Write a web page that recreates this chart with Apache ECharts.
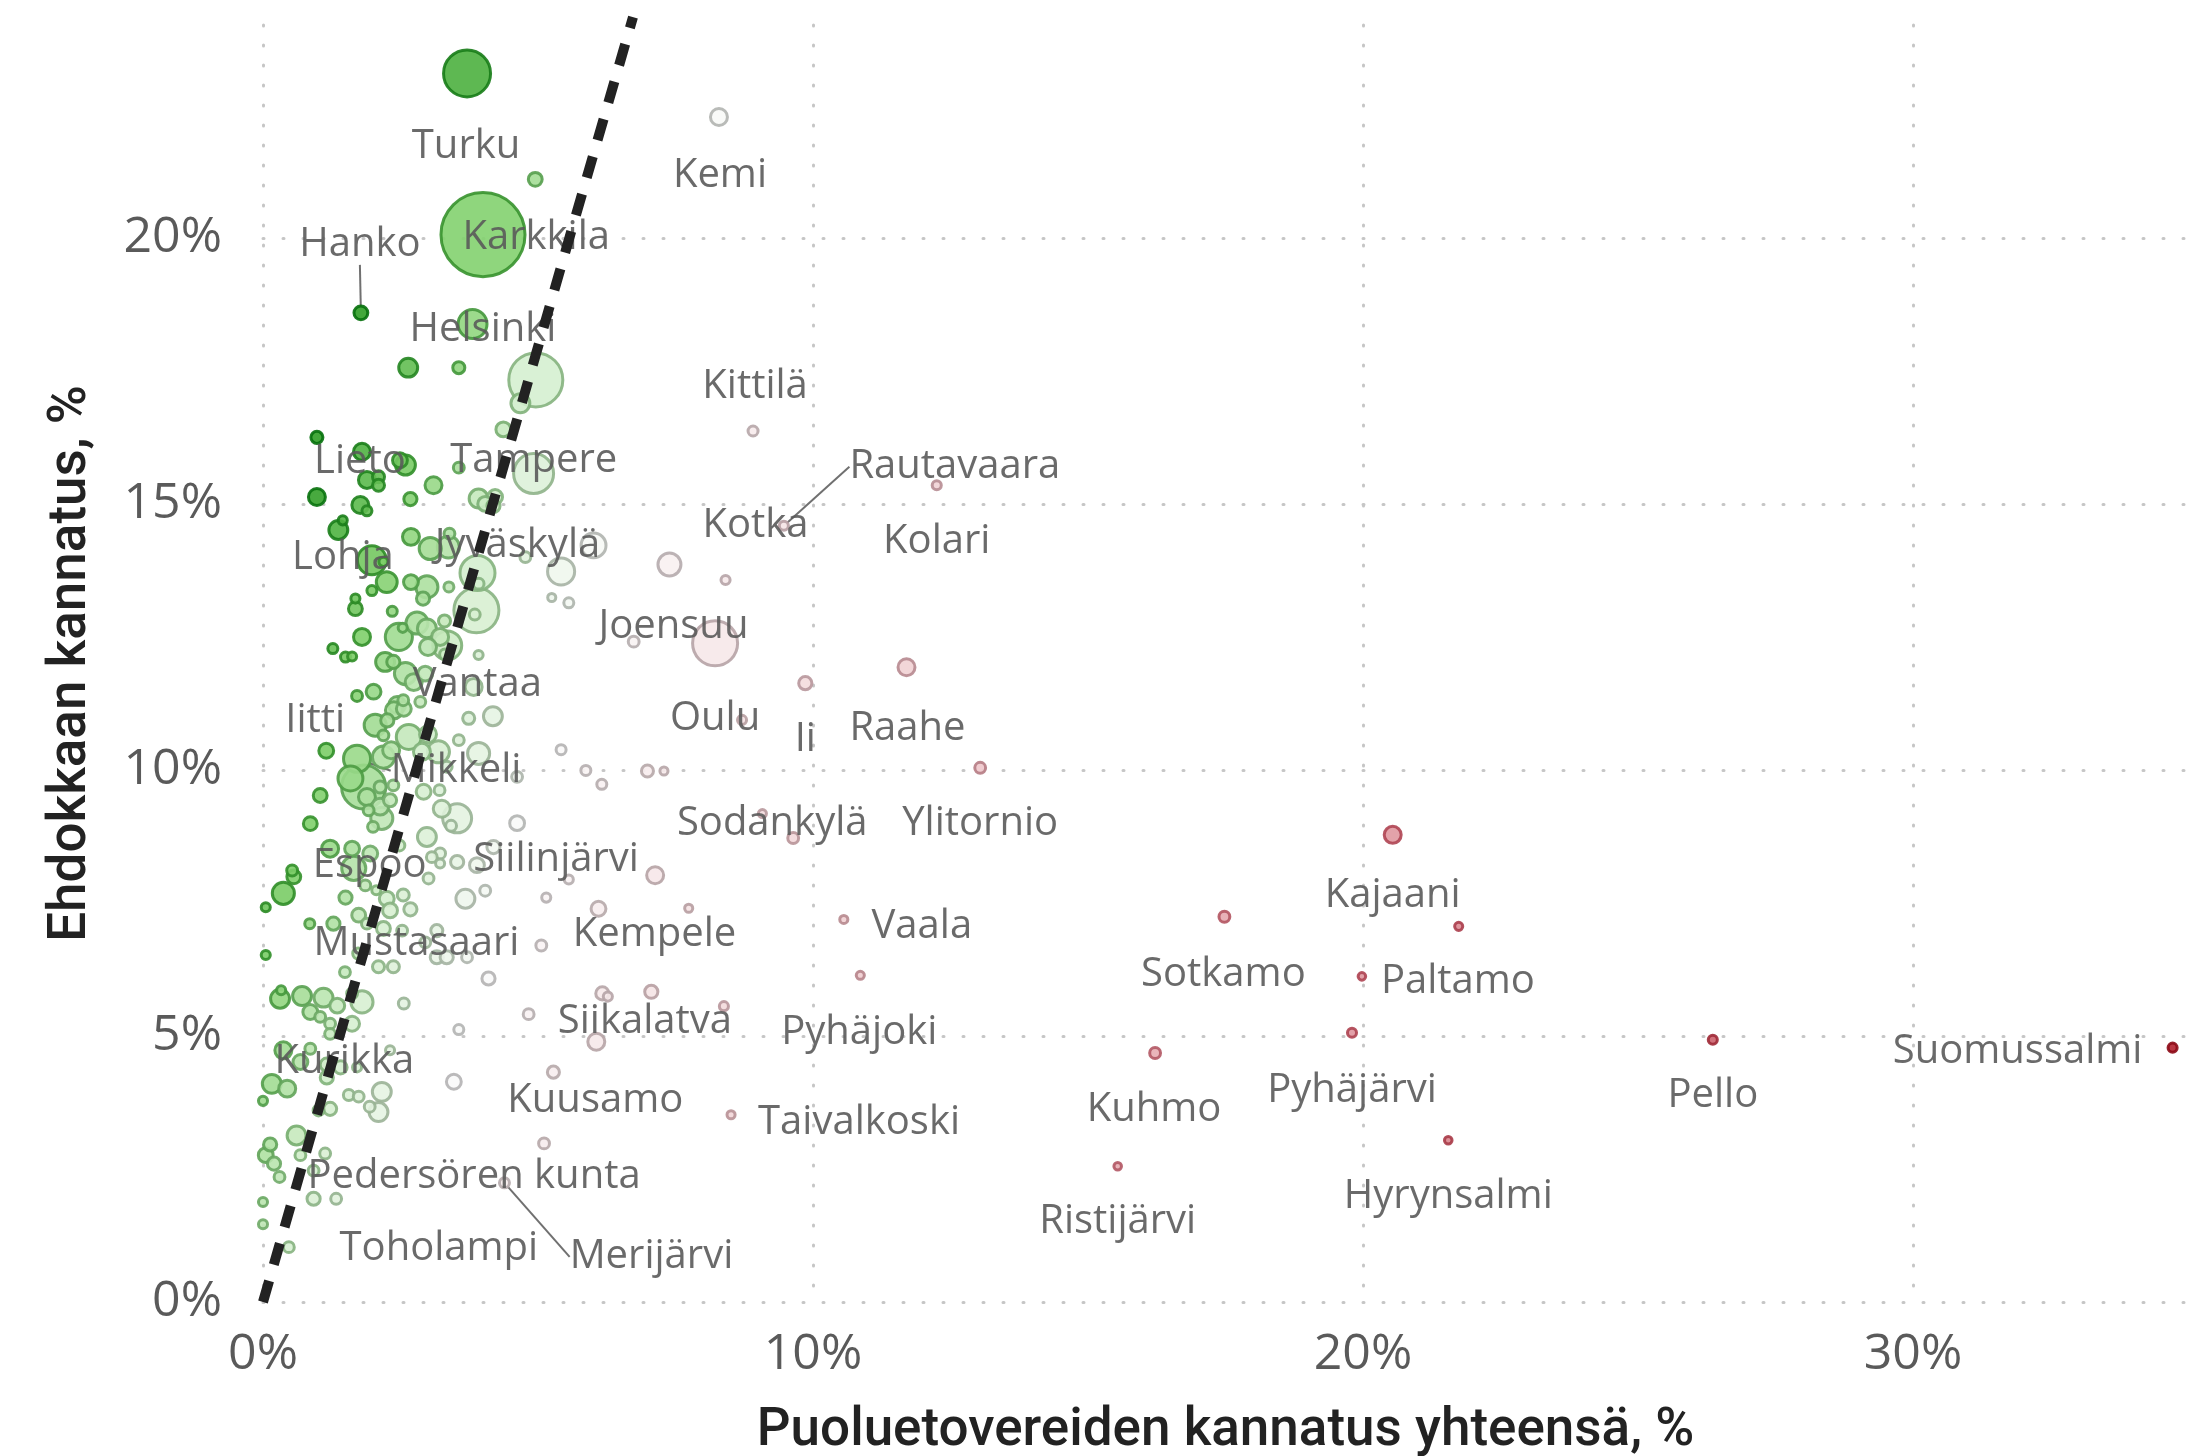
<!DOCTYPE html>
<html>
<head>
<meta charset="utf-8">
<script src="https://cdn.jsdelivr.net/npm/echarts@6/dist/echarts.min.js"></script>
<style>
  html, body { margin: 0; background: #fff; }
  #chart { width: 2212px; height: 1456px; }
</style>
</head>
<body>
<div id="chart"></div>
<script>
// labelled municipalities come first, in the same order as the value arrays
const labelNames = [
  'Turku', 'Kemi', 'Karkkila', 'Hanko', 'Helsinki', 'Kittilä', 'Rautavaara', 'Lieto',
  'Tampere', 'Kolari', 'Kotka', 'Lohja', 'Jyväskylä', 'Joensuu', 'Oulu', 'Vantaa',
  'Raahe', 'Iitti', 'Ii', 'Mikkeli', 'Sodankylä', 'Ylitornio', 'Espoo', 'Siilinjärvi',
  'Kajaani', 'Mustasaari', 'Kempele', 'Vaala', 'Sotkamo', 'Paltamo', 'Siikalatva', 'Pyhäjoki',
  'Suomussalmi', 'Kurikka', 'Kuusamo', 'Pyhäjärvi', 'Pello', 'Kuhmo', 'Taivalkoski',
  'Pedersören kunta', 'Hyrynsalmi', 'Ristijärvi', 'Toholampi', 'Merijärvi'
];

// party colleagues' combined support, %
const partyShare = [
  3.71, 8.29, 4.95, 1.78, 4.0, 8.91, 9.47, 0.98, 4.96, 12.25, 8.41, 1.98, 3.90, 7.39, 8.22, 3.88,
  11.7, 1.15, 9.86, 1.71, 9.64, 13.04, 1.83, 4.62, 20.54, 2.19, 6.1, 10.56, 17.48, 19.98, 8.38, 10.86,
  34.72, 0.37, 6.06, 19.8, 26.36, 16.22, 8.51, 5.11, 21.55, 15.54, 0.47, 4.39,
  3.81, 2.64, 3.56, 4.68, 4.37, 1.8, 2.59, 2.49, 3.56, 4.92, 2.1, 1.89, 2.1, 3.1, 0.98, 4.22,
  3.92, 2.68, 4.04, 1.77, 4.19, 1.89, 1.45, 1.37, 3.39, 2.69, 6.01, 3.37, 3.04, 4.77, 2.19, 5.42,
  2.25, 2.69, 3.92, 2.98, 3.38, 1.98, 5.25, 2.91, 1.68, 5.56, 1.68, 2.35, 3.85, 3.30, 2.8, 2.54,
  2.98, 1.8, 2.47, 3.22, 6.74, 3.35, 3.0, 1.27, 3.31, 3.92, 1.62, 1.5, 2.22, 2.37, 2.59, 2.95,
  2.74, 3.83, 2.01, 1.71, 2.55, 2.86, 2.44, 2.38, 2.56, 4.18, 3.74, 2.04, 2.26, 3.0, 2.65, 2.19,
  3.56, 5.42, 2.33, 3.19, 2.89, 3.92, 2.19, 3.34, 5.87, 6.99, 7.29, 4.62, 1.59, 6.16, 2.37, 2.13,
  3.21, 2.92, 1.04, 1.89, 2.31, 2.13, 3.25, 1.92, 9.08, 2.16, 3.53, 0.86, 3.42, 2.0, 2.98, 2.48,
  4.19, 1.22, 1.62, 1.95, 3.22, 3.07, 3.53, 3.22, 3.89, 1.65, 0.53, 7.13, 0.56, 3.01, 5.56, 1.86,
  2.06, 4.04, 0.37, 2.55, 1.5, 5.15, 2.25, 3.68, 0.05, 7.74, 2.68, 2.31, 1.74, 0.85, 1.28, 1.89,
  21.74, 2.53, 3.16, 2.95, 5.06, 1.73, 0.05, 3.16, 3.34, 3.71, 2.1, 2.37, 1.49, 4.1, 0.33, 6.17,
  6.27, 7.06, 1.62, 0.71, 0.31, 1.1, 1.8, 2.56, 1.35, 0.86, 4.83, 1.04, 1.22, 1.62, 3.56, 1.22,
  0.86, 2.31, 0.68, 1.16, 1.41, 1.71, 5.28, 1.16, 3.47, 0.16, 0.44, 2.16, 1.56, 1.74, 0.0, 1.94,
  1.22, 1.01, 2.1, 0.61, 0.13, 0.05, 0.68, 1.13, 0.2, 0.92, 0.3, 0.92, 1.33, 0.0, 0.0, 8.71
];

// the candidate's own support, %
const candidateShare = [
  23.09, 22.27, 21.1, 18.59, 20.06, 16.37, 14.59, 16.25, 17.33, 15.35, 13.57, 13.94, 13.70, 13.86, 12.38, 13.0,
  11.93, 10.36, 11.63, 10.21, 8.72, 10.04, 9.68, 9.0, 8.78, 7.02, 7.39, 7.19, 7.24, 6.12, 5.56, 6.14,
  4.78, 4.73, 4.89, 5.06, 4.93, 4.68, 3.52, 2.98, 3.04, 2.55, 1.03, 2.24,
  18.38, 17.56, 17.56, 16.89, 16.4, 15.98, 15.73, 15.82, 15.68, 15.57, 15.51, 15.45, 15.35, 15.35, 15.13, 15.13,
  15.1, 15.09, 15.0, 14.98, 14.96, 14.87, 14.69, 14.51, 14.44, 14.38, 14.22, 14.19, 14.16, 14.0, 13.91, 13.73,
  13.53, 13.53, 13.5, 13.44, 13.44, 13.37, 13.24, 13.22, 13.22, 13.14, 13.03, 12.98, 12.92, 12.8, 12.76, 12.67,
  12.66, 12.5, 12.5, 12.5, 12.41, 12.34, 12.31, 12.28, 12.17, 12.16, 12.13, 12.12, 12.03, 12.03, 11.81, 11.81,
  11.65, 11.56, 11.47, 11.39, 11.31, 11.28, 11.22, 11.12, 11.15, 11.01, 10.97, 10.84, 10.93, 10.67, 10.62, 10.65,
  10.56, 10.38, 10.37, 10.34, 10.34, 10.31, 10.24, 10.06, 9.99, 9.98, 9.98, 9.87, 9.84, 9.73, 9.71, 9.68,
  9.62, 9.59, 9.52, 9.49, 9.43, 9.31, 9.27, 9.24, 9.18, 9.09, 9.09, 8.99, 8.95, 8.93, 8.74, 8.58,
  8.55, 8.52, 8.52, 8.43, 8.43, 8.36, 8.27, 8.24, 8.21, 8.15, 8.11, 8.02, 7.99, 7.96, 7.94, 7.83,
  7.74, 7.73, 7.68, 7.65, 7.6, 7.6, 7.58, 7.58, 7.42, 7.4, 7.38, 7.36, 7.27, 7.11, 7.11, 7.11,
  7.06, 6.98, 6.98, 6.76, 6.7, 6.55, 6.52, 6.48, 6.48, 6.48, 6.3, 6.3, 6.2, 6.08, 5.86, 5.8,
  5.74, 5.83, 5.8, 5.75, 5.7, 5.72, 5.64, 5.61, 5.57, 5.45, 5.41, 5.36, 5.23, 5.23, 5.12, 5.04,
  4.76, 4.73, 4.51, 4.46, 4.41, 4.41, 4.32, 4.22, 4.14, 4.1, 4.01, 3.95, 3.89, 3.86, 3.78, 3.67,
  3.63, 3.6, 3.57, 3.13, 2.96, 2.76, 2.76, 2.79, 2.6, 2.47, 2.35, 1.94, 1.94, 1.88, 1.46, 10.94
];

// population, thousands (bubble size)
const population = [
  209, 26, 16, 16, 650, 6, 4, 11, 274, 4, 4, 80, 117, 50, 192, 192,
  26, 19, 14, 70, 8, 8, 184, 19, 26, 16, 19, 2, 8, 1, 4, 2,
  4, 26, 26, 4, 4, 8, 2, 8, 1, 1, 8, 6,
  80, 33, 11, 33, 19, 26, 37, 19, 8, 152, 11, 26, 11, 26, 26, 19,
  33, 14, 19, 26, 14, 6, 4, 33, 8, 26, 59, 46, 46, 8, 4, 70,
  41, 19, 8, 46, 6, 6, 2, 14, 4, 6, 16, 6, 8, 11, 46, 4,
  33, 26, 70, 26, 8, 80, 26, 6, 8, 4, 4, 6, 33, 14, 46, 19,
  26, 26, 19, 8, 8, 8, 26, 26, 19, 33, 11, 46, 14, 26, 59, 8,
  8, 6, 26, 46, 26, 46, 46, 8, 6, 11, 2, 8, 59, 6, 8, 11,
  8, 19, 16, 26, 14, 26, 26, 8, 2, 46, 80, 16, 8, 8, 33, 8,
  14, 26, 19, 19, 8, 8, 14, 4, 19, 55, 8, 26, 16, 8, 4, 8,
  4, 8, 46, 11, 14, 4, 19, 33, 4, 2, 14, 19, 16, 6, 14, 8,
  2, 8, 11, 8, 8, 8, 4, 14, 14, 8, 11, 11, 8, 14, 4, 14,
  4, 14, 8, 33, 33, 33, 46, 8, 19, 19, 8, 8, 8, 19, 6, 8,
  8, 4, 19, 14, 14, 4, 11, 14, 19, 33, 26, 33, 8, 8, 4, 8,
  14, 8, 33, 33, 14, 19, 8, 8, 14, 8, 8, 14, 8, 4, 4, 4
];

// dashed reference line: candidate share = slope * party share
const trendSlope = 3.59;
const trendTop = 24.15;
const xMax = 35;
const yMax = 24;

// label placement relative to its point, px
const labelOffsets = {
  'Turku': [-1, 69], 'Kemi': [1, 55], 'Karkkila': [1, 54], 'Hanko': [-1, -72],
  'Helsinki': [0, 91], 'Kittilä': [2, -48], 'Rautavaara': [171, -63], 'Lieto': [43, 20],
  'Tampere': [-2, 77], 'Kolari': [0, 52], 'Kotka': [30, -58], 'Lohja': [-29, -7],
  'Jyväskylä': [40, -31], 'Joensuu': [4, 58], 'Oulu': [0, 71], 'Vantaa': [1, 70],
  'Raahe': [1, 57], 'Iitti': [-11, -34], 'Ii': [0, 52], 'Mikkeli': [99, 8],
  'Sodankylä': [-21, -18], 'Ylitornio': [0, 52], 'Espoo': [6, 75], 'Siilinjärvi': [39, 32],
  'Kajaani': [0, 57], 'Mustasaari': [33, 11], 'Kempele': [56, 22], 'Vaala': [78, 3],
  'Sotkamo': [-1, 54], 'Paltamo': [96, 1], 'Siikalatva': [-79, 11], 'Pyhäjoki': [-1, 53],
  'Suomussalmi': [-155, 0], 'Kurikka': [61, 7], 'Kuusamo': [-1, 55], 'Pyhäjärvi': [0, 54],
  'Pello': [0, 52], 'Kuhmo': [-1, 53], 'Taivalkoski': [128, 4], 'Pedersören kunta': [-70, 29],
  'Hyrynsalmi': [0, 52], 'Ristijärvi': [0, 51], 'Toholampi': [150, -3], 'Merijärvi': [147, 70]
};
const labelShiftY = 4;
const leaderLines = ['Hanko', 'Rautavaara', 'Mikkeli', 'Merijärvi'];

// colour by distance from the dashed line (red = below, green = above)
const residStops = [-120, -60, -25, -8, 0, 6, 12];
const fillStops = ['#b3202e', '#e4a3aa', '#f3d9db', '#fafafa', '#d3eecd', '#7fcf6a', '#2f9e26'];
const borderStops = ['#8c0a16', '#b24a58', '#b8959a', '#b4b4b4', '#82b27b', '#33902a', '#06700c'];

function residToT(r) {
  const s = residStops;
  if (r <= s[0]) return 0;
  if (r >= s[s.length - 1]) return 1;
  let i = 0;
  while (r > s[i + 1]) i++;
  return (i + (r - s[i]) / (s[i + 1] - s[i])) / (s.length - 1);
}

const points = partyShare.map((x, i) => {
  const y = candidateShare[i];
  const t = residToT(y - trendSlope * x);
  const name = labelNames[i] || '';
  return {
    name: name,
    value: [x, y, population[i]],
    itemStyle: {
      color: echarts.color.lerp(t, fillStops),
      borderColor: echarts.color.lerp(t, borderStops)
    },
    label: { show: !!name },
    labelLine: { show: leaderLines.includes(name) }
  };
}).sort((a, b) => b.value[2] - a.value[2]);

const gridDots = { color: '#c6c6c6', width: 3, type: [1, 19], cap: 'round' };
const tickFont = { fontSize: 50, color: '#5a5a5a', fontFamily: 'Open Sans' };
const titleFont = { fontSize: 53, color: '#222', fontFamily: 'Roboto', fontWeight: 500 };

const myChart = echarts.init(document.getElementById('chart'));
myChart.setOption({
  animation: false,
  backgroundColor: '#fff',
  grid: { left: 263, right: 24, top: 25, bottom: 154, outerBoundsMode: 'none' },
  xAxis: {
    type: 'value', min: 0, max: xMax, interval: 10,
    axisLine: { show: false }, axisTick: { show: false },
    axisLabel: { ...tickFont, margin: 28, formatter: v => (v % 10 === 0 ? v + '%' : '') },
    splitLine: { show: true, showMaxLine: false, lineStyle: gridDots },
    name: 'Puoluetovereiden kannatus yhteensä, %',
    nameLocation: 'middle', nameGap: 103, nameTextStyle: titleFont
  },
  yAxis: {
    type: 'value', min: 0, max: yMax, interval: 5,
    axisLine: { show: false }, axisTick: { show: false },
    axisLabel: { ...tickFont, margin: 41, formatter: v => (v % 5 === 0 ? v + '%' : '') },
    splitLine: { show: true, showMaxLine: false, lineStyle: gridDots },
    name: 'Ehdokkaan kannatus, %',
    nameLocation: 'middle', nameGap: 165, nameRotate: 90, nameTextStyle: titleFont
  },
  series: [
    {
      type: 'scatter',
      z: 2,
      data: points,
      symbolSize: val => Math.sqrt(100 + 11.5 * val[2]) - 3,
      itemStyle: { borderWidth: 3, opacity: 0.9 },
      label: {
        show: false, position: 'inside', formatter: '{b}',
        fontSize: 40, color: '#5a5a5a', fontFamily: 'Open Sans'
      },
      labelLine: { lineStyle: { color: '#707070', width: 2 } },
      labelLayout: params => {
        const off = labelOffsets[points[params.dataIndex].name];
        return off ? { dx: off[0], dy: off[1] + labelShiftY } : {};
      },
      emphasis: { disabled: true }
    },
    {
      type: 'line',
      z: 5,
      silent: true,
      clip: false,
      symbol: 'none',
      data: [[0, 0], [trendTop / trendSlope, trendTop]],
      lineStyle: { color: '#222', width: 10, type: [22, 17], cap: 'butt' }
    }
  ]
});
</script>
</body>
</html>
